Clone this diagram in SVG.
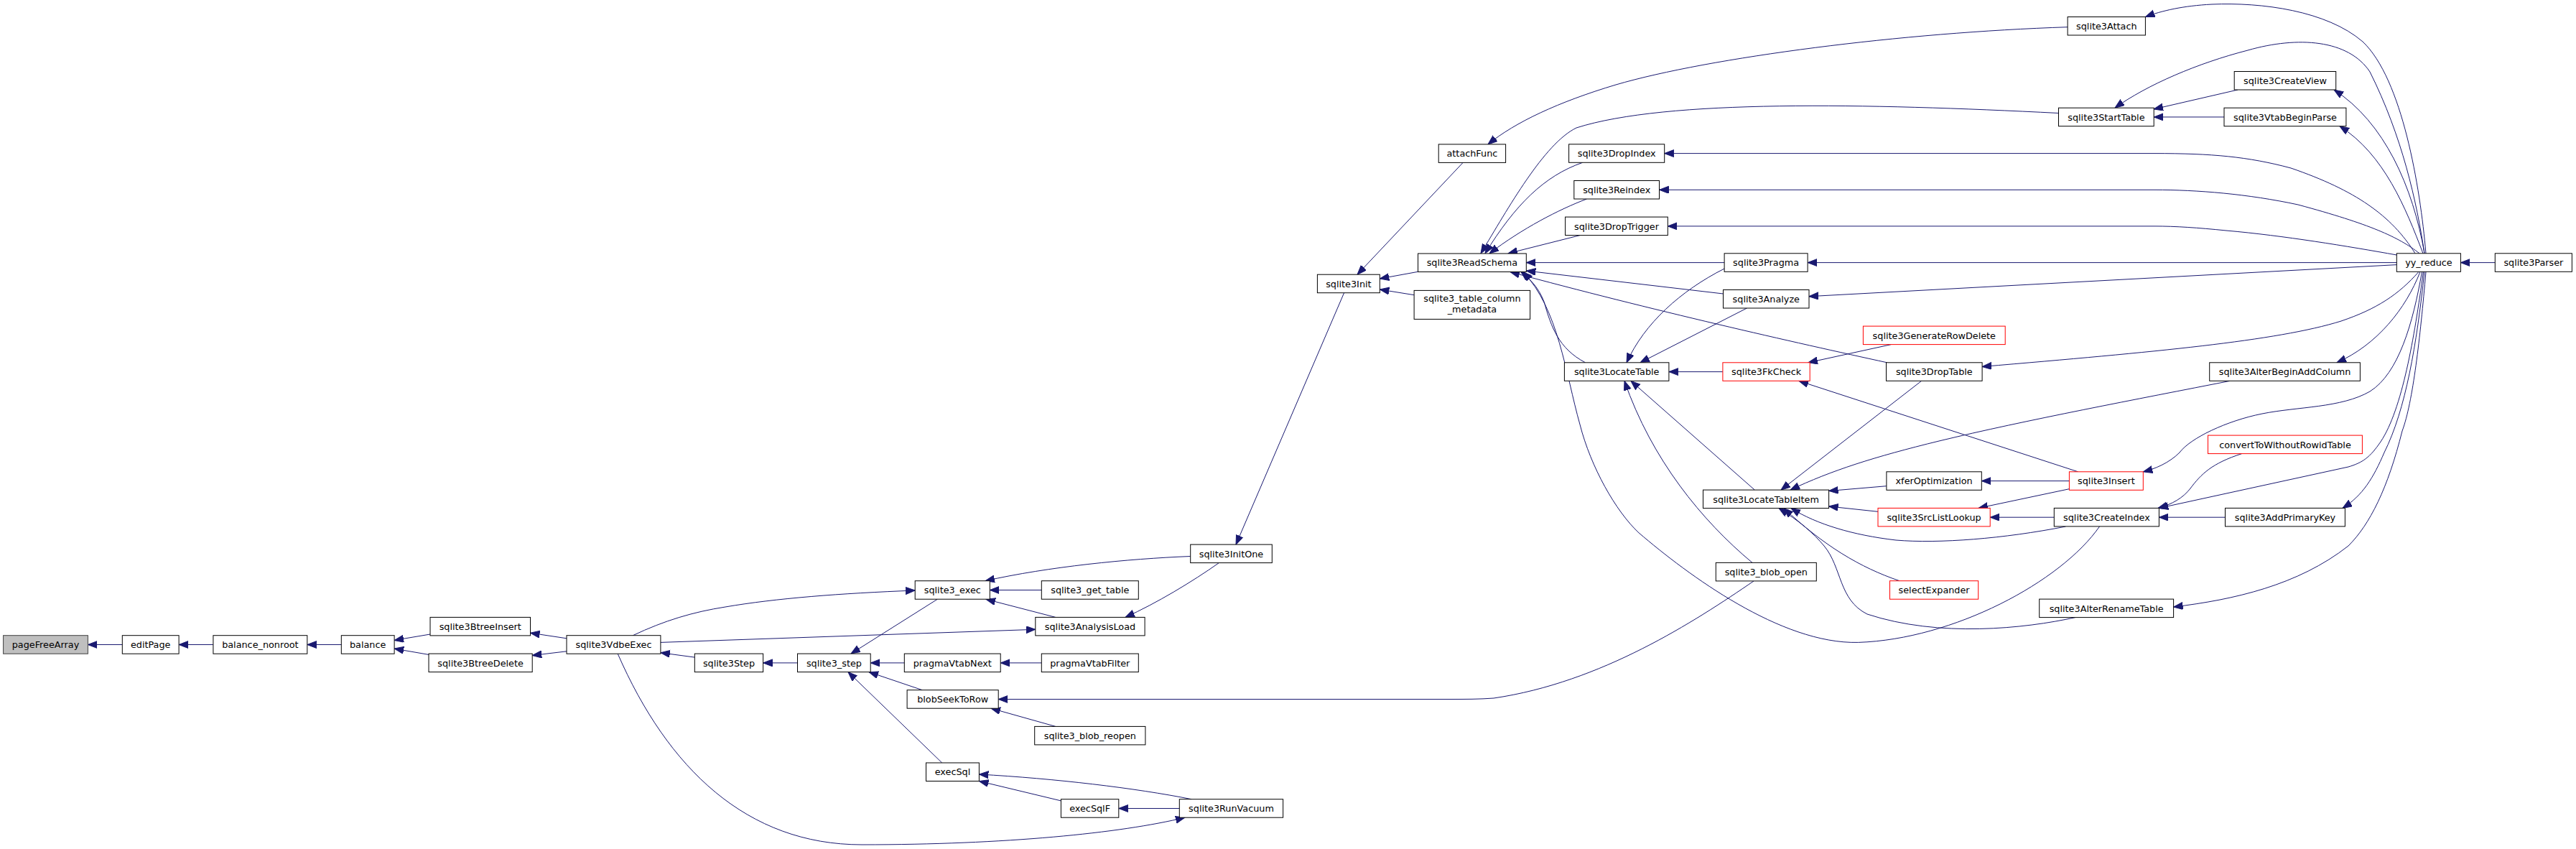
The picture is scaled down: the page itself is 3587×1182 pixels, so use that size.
<svg xmlns="http://www.w3.org/2000/svg" width="3587" height="1182" viewBox="0 0 3587 1182">
<defs>
<marker id="ah" markerUnits="userSpaceOnUse" markerWidth="14" markerHeight="11" refX="13" refY="5" orient="auto" viewBox="0 0 14 11">
<path d="M0,0 L13,5 L0,10 z" fill="#191970" stroke="#191970" stroke-width="1"/>
</marker>
<style>
.node rect{fill:#ffffff;stroke:#000000;stroke-width:1}
.node.red rect{stroke:#ff0000}
.node.root rect{fill:#bfbfbf;stroke:#404040}
.node text{font-family:"DejaVu Sans","Liberation Sans",sans-serif;font-size:12.8px;text-anchor:middle;fill:#000000}
.edges path{fill:none;stroke:#191970;stroke-width:1;marker-end:url(#ah)}
</style>
</defs>
<rect x="0" y="0" width="3587" height="1182" fill="#ffffff"/>
<g class="edges" id="edges">
<path d="M170.3,897.5 L122.4,897.5"/>
<path d="M296.9,897.5 L249.1,897.5"/>
<path d="M475.3,897.5 L427.8,897.5"/>
<path d="M599,883 L549.1,891.4"/>
<path d="M597,911.4 L549.1,903.1"/>
<path d="M789,888.8 L738.5,881.2"/>
<path d="M789,906.8 L741.2,912.5"/>
<path d="M967.3,915.1 L919.9,908.7"/>
<path d="M881.3,884.7 C925,864 965,852 1010,845 C1080,833 1170,826 1274.2,822"/>
<path d="M919.9,894.4 L1441.8,876.3"/>
<path d="M860.2,910.2 C930,1070 1040,1176 1200,1176 C1400,1176 1560,1160 1650,1138.2"/>
<path d="M1110.5,922.9 L1062.6,922.9"/>
<path d="M1305.2,834.3 L1185,910.1"/>
<path d="M1259.3,922.9 L1212.2,922.9"/>
<path d="M1284.2,960.7 L1210,935.6"/>
<path d="M1311.7,1062 L1181,935.6"/>
<path d="M1657.7,774.5 C1570,778 1460,789 1372,808.7"/>
<path d="M1450.3,821.5 L1378.3,821.5"/>
<path d="M1469.8,859.4 L1373,834.3"/>
<path d="M1697.4,783.6 C1660,810 1610,840 1567,859.4"/>
<path d="M1871.6,407.7 L1721,758.1"/>
<path d="M1450.3,922.9 L1393.2,922.9"/>
<path d="M2442.1,808.9 C2360,865 2230,950 2080,972 C2060,973.5 2040,973.5 2020,973.5 L1390.2,973.5"/>
<path d="M1469.8,1011.4 L1380,986.2"/>
<path d="M1659.2,1112.7 C1580,1097 1470,1084 1363.4,1078"/>
<path d="M1477.4,1114.9 L1363.4,1087.5"/>
<path d="M1642.3,1125.5 L1557.8,1125.5"/>
<path d="M2037.2,226.3 L1890,382.2"/>
<path d="M1974.5,378.3 L1921.3,388"/>
<path d="M1969.1,410.7 L1921.3,403"/>
<path d="M2879.1,37.7 C2650,45 2380,80 2250,118 C2170,142 2110,170 2072,200.9"/>
<path d="M2866.5,157.5 C2600,144 2320,138 2195,178 C2150,200 2100,290 2062,352.8"/>
<path d="M2203.7,226.3 C2150,245 2110,285 2068,352.8"/>
<path d="M2209.4,277 C2170,292 2120,318 2074,352.8"/>
<path d="M2200,327.6 L2100,352.8"/>
<path d="M2401.1,365.6 L2125.3,365.6"/>
<path d="M2399.5,409 L2125.3,377"/>
<path d="M2401.1,374 C2340,405 2290,450 2265,504.8"/>
<path d="M2432.5,429 L2284,504.8"/>
<path d="M2627.7,504.8 C2500,477 2300,432 2103,378.6"/>
<path d="M2207.5,504.8 C2170,485 2160,455 2150,420 C2142,400 2132,390 2118,378.6"/>
<path d="M2923.5,733 C2870,810 2720,890 2587.5,894.4 C2480,897 2350,800 2282,741.8 C2250,712 2215,650 2200,591 C2180,520 2170,430 2121,378.6"/>
<path d="M2440,783.4 C2370,725 2300,640 2262,530.4"/>
<path d="M2443.3,682.1 L2271,530.4"/>
<path d="M2398.9,517.6 L2323.9,517.6"/>
<path d="M2633.4,479.6 L2518,504.8"/>
<path d="M2893.6,656.8 L2505,530.4"/>
<path d="M2675.5,530.4 L2480,682.1"/>
<path d="M3104.8,530.4 C2980,555 2820,585 2700,614 C2610,636 2550,655 2493,682.1"/>
<path d="M2626.9,676.7 L2546.6,683.5"/>
<path d="M2615,712.3 L2546.6,705"/>
<path d="M2876.4,733 C2790,750 2700,757 2640,752 C2580,745 2530,730 2494,707.6"/>
<path d="M2645,808.7 C2590,790 2540,760 2484,707.6"/>
<path d="M2889.8,859.6 C2820,875 2700,888 2600,855 C2560,835 2565,790 2540,760 C2525,742 2505,725 2477,707.6"/>
<path d="M2881.4,669.6 L2759.3,669.6"/>
<path d="M2881.4,680.7 L2755,707.4"/>
<path d="M2860.3,720.2 L2771.2,720.2"/>
<path d="M3121.7,631.6 C3080,645 3065,660 3050,680 C3040,693 3025,702 3005,707.4"/>
<path d="M3098.5,720.2 L3006.4,720.2"/>
<path d="M3378,352.8 C3370,260 3345,110 3290,58 C3240,15 3150,3 3080,6 C3040,8 3010,15 2987.4,23.5"/>
<path d="M3376,352.8 C3365,280 3345,190 3300,100 C3270,55 3200,50 3130,70 C3060,88 2990,118 2945,150.2"/>
<path d="M3376,352.8 C3360,260 3320,170 3250,125"/>
<path d="M3116,125 L2999,152"/>
<path d="M3097,162.95 L2999.2,162.95"/>
<path d="M3374,352.8 C3350,290 3320,215 3258,175.7"/>
<path d="M3363,352.8 C3330,300 3280,265 3190,234 C3130,218 3080,213.6 3000,213.6 L2317.7,213.6"/>
<path d="M3369,352.8 C3340,330 3300,312 3200,285 C3130,270 3060,264.3 3000,264.3 L2310.5,264.3"/>
<path d="M3337.3,355 C3270,343 3180,328 3100,321 C3060,317 3030,314.9 3000,314.9 L2322.3,314.9"/>
<path d="M3337.3,365.6 L2517.1,365.6"/>
<path d="M3337.3,368.6 L2519,412.7"/>
<path d="M3368,378.4 C3340,410 3310,430 3260,447 C3170,475 3000,490 2760.1,510.5"/>
<path d="M3370,378.4 C3350,430 3310,480 3254,504.8"/>
<path d="M3372.5,378.4 C3360,450 3340,520 3300,545 C3260,568 3200,566 3150,576 C3100,586 3050,610 3035,630 C3020,645 3000,653 2984.3,656.8"/>
<path d="M3374.4,378.4 C3362,470 3345,570 3315,615 C3300,637 3290,644 3270,650 L3006.4,707.4"/>
<path d="M3376,378.4 C3365,480 3350,570 3320,630 C3305,665 3290,690 3262,707.4"/>
<path d="M3378,378.4 C3370,470 3360,560 3345,600 C3325,680 3300,730 3270,760 C3200,815 3110,835 3026.6,845"/>
<path d="M3474.3,365.6 L3426.4,365.6"/>
</g>
<g class="node root" id="n_pageFreeArray"><rect x="4.6" y="884.7" width="117.8" height="25.5"/><text x="63.5" y="902.1">pageFreeArray</text></g>
<g class="node" id="n_editPage"><rect x="170.3" y="884.7" width="78.8" height="25.5"/><text x="209.7" y="902.1">editPage</text></g>
<g class="node" id="n_balance_nonroot"><rect x="296.9" y="884.7" width="130.9" height="25.5"/><text x="362.4" y="902.1">balance_nonroot</text></g>
<g class="node" id="n_balance"><rect x="475.3" y="884.7" width="73.8" height="25.5"/><text x="512.2" y="902.1">balance</text></g>
<g class="node" id="n_sqlite3BtreeInsert"><rect x="599" y="859.4" width="139.5" height="25.5"/><text x="668.8" y="876.8">sqlite3BtreeInsert</text></g>
<g class="node" id="n_sqlite3BtreeDelete"><rect x="597" y="910.1" width="144.2" height="25.5"/><text x="669.1" y="927.5">sqlite3BtreeDelete</text></g>
<g class="node" id="n_sqlite3VdbeExec"><rect x="789" y="884.7" width="130.9" height="25.5"/><text x="854.5" y="902.1">sqlite3VdbeExec</text></g>
<g class="node" id="n_sqlite3Step"><rect x="967.3" y="910.1" width="95.3" height="25.5"/><text x="1015" y="927.5">sqlite3Step</text></g>
<g class="node" id="n_sqlite3_step"><rect x="1110.5" y="910.1" width="101.7" height="25.5"/><text x="1161.4" y="927.5">sqlite3_step</text></g>
<g class="node" id="n_sqlite3_exec"><rect x="1274.2" y="808.7" width="104.1" height="25.5"/><text x="1326.3" y="826.1">sqlite3_exec</text></g>
<g class="node" id="n_sqlite3_get_table"><rect x="1450.3" y="808.7" width="135" height="25.5"/><text x="1517.8" y="826.1">sqlite3_get_table</text></g>
<g class="node" id="n_sqlite3AnalysisLoad"><rect x="1441.8" y="859.4" width="152.3" height="25.5"/><text x="1518" y="876.8">sqlite3AnalysisLoad</text></g>
<g class="node" id="n_sqlite3InitOne"><rect x="1657.7" y="758.1" width="113.6" height="25.5"/><text x="1714.5" y="775.5">sqlite3InitOne</text></g>
<g class="node" id="n_pragmaVtabNext"><rect x="1259.3" y="910.1" width="133.9" height="25.5"/><text x="1326.3" y="927.5">pragmaVtabNext</text></g>
<g class="node" id="n_pragmaVtabFilter"><rect x="1450.3" y="910.1" width="135" height="25.5"/><text x="1517.8" y="927.5">pragmaVtabFilter</text></g>
<g class="node" id="n_blobSeekToRow"><rect x="1263.1" y="960.7" width="127.1" height="25.5"/><text x="1326.7" y="978.1">blobSeekToRow</text></g>
<g class="node" id="n_sqlite3_blob_reopen"><rect x="1440.7" y="1011.4" width="154.2" height="25.5"/><text x="1517.8" y="1028.8">sqlite3_blob_reopen</text></g>
<g class="node" id="n_execSql"><rect x="1289.5" y="1062" width="73.9" height="25.5"/><text x="1326.5" y="1079.4">execSql</text></g>
<g class="node" id="n_execSqlF"><rect x="1477.4" y="1112.7" width="80.4" height="25.5"/><text x="1517.6" y="1130.1">execSqlF</text></g>
<g class="node" id="n_sqlite3RunVacuum"><rect x="1642.3" y="1112.7" width="144.3" height="25.5"/><text x="1714.5" y="1130.1">sqlite3RunVacuum</text></g>
<g class="node" id="n_sqlite3Init"><rect x="1834.4" y="382.2" width="86.9" height="25.5"/><text x="1877.9" y="399.6">sqlite3Init</text></g>
<g class="node" id="n_attachFunc"><rect x="2003.2" y="200.9" width="93.4" height="25.5"/><text x="2049.9" y="218.3">attachFunc</text></g>
<g class="node" id="n_sqlite3ReadSchema"><rect x="1974.5" y="353" width="150.8" height="25.5"/><text x="2049.9" y="370.4">sqlite3ReadSchema</text></g>
<g class="node" id="n_sqlite3_table_column_metadata"><rect x="1969.1" y="404.4" width="161.5" height="40"/><text x="2049.9" y="420.2">sqlite3_table_column</text><text x="2049.9" y="435.3">_metadata</text></g>
<g class="node" id="n_sqlite3Attach"><rect x="2879.1" y="23.5" width="108.3" height="25.5"/><text x="2933.3" y="40.9">sqlite3Attach</text></g>
<g class="node" id="n_sqlite3StartTable"><rect x="2866.5" y="150.2" width="132.7" height="25.5"/><text x="2932.9" y="167.6">sqlite3StartTable</text></g>
<g class="node" id="n_sqlite3CreateView"><rect x="3111.2" y="99.5" width="141.5" height="25.5"/><text x="3182" y="116.9">sqlite3CreateView</text></g>
<g class="node" id="n_sqlite3VtabBeginParse"><rect x="3097" y="150.2" width="169.9" height="25.5"/><text x="3182" y="167.6">sqlite3VtabBeginParse</text></g>
<g class="node" id="n_sqlite3DropIndex"><rect x="2184.6" y="200.8" width="133.1" height="25.5"/><text x="2251.2" y="218.2">sqlite3DropIndex</text></g>
<g class="node" id="n_sqlite3Reindex"><rect x="2191.8" y="251.5" width="118.7" height="25.5"/><text x="2251.2" y="268.9">sqlite3Reindex</text></g>
<g class="node" id="n_sqlite3DropTrigger"><rect x="2179.6" y="302.1" width="142.7" height="25.5"/><text x="2251" y="319.5">sqlite3DropTrigger</text></g>
<g class="node" id="n_sqlite3Pragma"><rect x="2401.1" y="352.8" width="116" height="25.5"/><text x="2459.1" y="370.2">sqlite3Pragma</text></g>
<g class="node" id="n_sqlite3Analyze"><rect x="2399.5" y="403.5" width="119.5" height="25.5"/><text x="2459.3" y="420.9">sqlite3Analyze</text></g>
<g class="node red" id="n_sqlite3GenerateRowDelete"><rect x="2594.4" y="454.1" width="197.8" height="25.5"/><text x="2693.3" y="471.5">sqlite3GenerateRowDelete</text></g>
<g class="node red" id="n_sqlite3FkCheck"><rect x="2398.9" y="504.8" width="121.3" height="25.5"/><text x="2459.6" y="522.2">sqlite3FkCheck</text></g>
<g class="node" id="n_sqlite3LocateTable"><rect x="2178.4" y="504.8" width="145.5" height="25.5"/><text x="2251.2" y="522.2">sqlite3LocateTable</text></g>
<g class="node" id="n_sqlite3DropTable"><rect x="2626.5" y="504.8" width="133.6" height="25.5"/><text x="2693.3" y="522.2">sqlite3DropTable</text></g>
<g class="node" id="n_sqlite3AlterBeginAddColumn"><rect x="3076.7" y="504.8" width="209.7" height="25.5"/><text x="3181.6" y="522.2">sqlite3AlterBeginAddColumn</text></g>
<g class="node" id="n_yy_reduce"><rect x="3337.3" y="352.8" width="89.1" height="25.5"/><text x="3381.9" y="370.2">yy_reduce</text></g>
<g class="node" id="n_sqlite3Parser"><rect x="3474.3" y="352.8" width="107.1" height="25.5"/><text x="3527.9" y="370.2">sqlite3Parser</text></g>
<g class="node red" id="n_convertToWithoutRowidTable"><rect x="3074.5" y="606.1" width="214.9" height="25.5"/><text x="3182" y="623.5">convertToWithoutRowidTable</text></g>
<g class="node" id="n_xferOptimization"><rect x="2626.9" y="656.8" width="132.4" height="25.5"/><text x="2693.1" y="674.2">xferOptimization</text></g>
<g class="node red" id="n_sqlite3Insert"><rect x="2881.4" y="656.8" width="102.9" height="25.5"/><text x="2932.9" y="674.2">sqlite3Insert</text></g>
<g class="node" id="n_sqlite3LocateTableItem"><rect x="2371.5" y="682.1" width="175.1" height="25.5"/><text x="2459.1" y="699.5">sqlite3LocateTableItem</text></g>
<g class="node red" id="n_sqlite3SrcListLookup"><rect x="2615" y="707.4" width="156.2" height="25.5"/><text x="2693.1" y="724.8">sqlite3SrcListLookup</text></g>
<g class="node" id="n_sqlite3CreateIndex"><rect x="2860.3" y="707.4" width="146.1" height="25.5"/><text x="2933.4" y="724.8">sqlite3CreateIndex</text></g>
<g class="node" id="n_sqlite3AddPrimaryKey"><rect x="3098.5" y="707.4" width="166.9" height="25.5"/><text x="3182" y="724.8">sqlite3AddPrimaryKey</text></g>
<g class="node" id="n_sqlite3_blob_open"><rect x="2389.3" y="783.4" width="140" height="25.5"/><text x="2459.3" y="800.8">sqlite3_blob_open</text></g>
<g class="node red" id="n_selectExpander"><rect x="2631.5" y="808.7" width="123.2" height="25.5"/><text x="2693.1" y="826.1">selectExpander</text></g>
<g class="node" id="n_sqlite3AlterRenameTable"><rect x="2839.7" y="834.1" width="186.9" height="25.5"/><text x="2933.2" y="851.5">sqlite3AlterRenameTable</text></g>
</svg>
